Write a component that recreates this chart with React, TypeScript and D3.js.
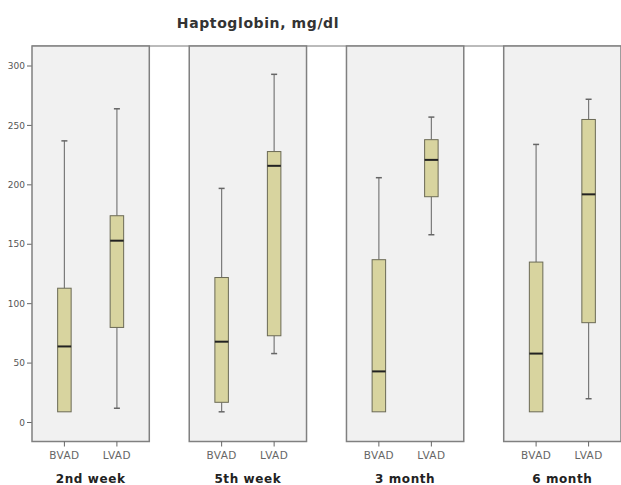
import { useEffect, useRef } from 'react';
import * as d3 from 'd3';

// time points and device types
const groups = ['2nd week', '5th week', '3 month', '6 month'];
const categories = ['BVAD', 'LVAD'];
const yTicks = [0, 50, 100, 150, 200, 250, 300];

// box stats per group: [lower whisker, q1, median, q3, upper whisker]
const bvadStats = [
  [9, 9, 64, 113, 237],
  [9, 17, 68, 122, 197],
  [9, 9, 43, 137, 206],
  [9, 9, 58, 135, 234],
];
const lvadStats = [
  [12, 80, 153, 174, 264],
  [58, 73, 216, 228, 293],
  [158, 190, 221, 238, 257],
  [20, 84, 192, 255, 272],
];

export default function App() {
  const ref = useRef<SVGSVGElement | null>(null);

  useEffect(() => {
    if (!ref.current) return;
    const svg = d3.select(ref.current);
    svg.selectAll('*').remove();

    const font = 'DejaVu Sans, Verdana, sans-serif';
    const panelTop = 46;
    const panelBottom = 441.5;

    const x = d3.scaleBand<string>()
      .domain(groups)
      .range([32, 621])
      .paddingInner(0.254)
      .paddingOuter(0);

    const xInner = d3.scalePoint<string>()
      .domain(categories)
      .range([0, x.bandwidth()])
      .padding(0.617);

    const y = d3.scaleLinear().domain([0, 300]).range([422.5, 66]);

    // title
    svg.append('text')
      .attr('x', 258)
      .attr('y', 28)
      .attr('text-anchor', 'middle')
      .attr('font-family', font)
      .attr('font-weight', 'bold')
      .attr('font-size', 14)
      .attr('letter-spacing', 0.6)
      .attr('fill', '#333')
      .text('Haptoglobin, mg/dl');

    // top line joining panels
    svg.append('line')
      .attr('x1', 32).attr('x2', 621)
      .attr('y1', panelTop).attr('y2', panelTop)
      .attr('stroke', '#bbb')
      .attr('stroke-width', 2);

    // y axis ticks
    const yAxis = svg.append('g');
    yTicks.forEach(t => {
      yAxis.append('line')
        .attr('x1', 27).attr('x2', 32)
        .attr('y1', y(t)).attr('y2', y(t))
        .attr('stroke', '#666');
      yAxis.append('text')
        .attr('x', 25)
        .attr('y', y(t))
        .attr('dy', '0.35em')
        .attr('text-anchor', 'end')
        .attr('font-family', font)
        .attr('font-size', 9)
        .attr('fill', '#555')
        .text(t);
    });

    groups.forEach((g, gi) => {
      const x0 = x(g) ?? 0;
      const panel = svg.append('g').attr('transform', `translate(${x0},0)`);

      panel.append('rect')
        .attr('x', 0)
        .attr('y', panelTop)
        .attr('width', x.bandwidth())
        .attr('height', panelBottom - panelTop)
        .attr('fill', '#f1f1f1')
        .attr('stroke', '#808080')
        .attr('stroke-width', 1.5);

      const series = [bvadStats[gi], lvadStats[gi]];
      categories.forEach((c, ci) => {
        const cx = xInner(c) ?? 0;
        const [lo, q1, med, q3, hi] = series[ci];
        const bw = 13.5;

        // whiskers
        panel.append('line')
          .attr('x1', cx).attr('x2', cx)
          .attr('y1', y(hi)).attr('y2', y(q3))
          .attr('stroke', '#7a7a7a').attr('stroke-width', 1.2);
        panel.append('line')
          .attr('x1', cx).attr('x2', cx)
          .attr('y1', y(q1)).attr('y2', y(lo))
          .attr('stroke', '#7a7a7a').attr('stroke-width', 1.2);
        [hi, lo].forEach(v => {
          if (v === q1) return;
          panel.append('line')
            .attr('x1', cx - 3).attr('x2', cx + 3)
            .attr('y1', y(v)).attr('y2', y(v))
            .attr('stroke', '#666').attr('stroke-width', 1.5);
        });

        // box
        panel.append('rect')
          .attr('x', cx - bw / 2)
          .attr('y', y(q3))
          .attr('width', bw)
          .attr('height', y(q1) - y(q3))
          .attr('fill', '#d8d49f')
          .attr('stroke', '#6b6a55')
          .attr('stroke-width', 1);

        // median
        panel.append('line')
          .attr('x1', cx - bw / 2).attr('x2', cx + bw / 2)
          .attr('y1', y(med)).attr('y2', y(med))
          .attr('stroke', '#222').attr('stroke-width', 2);

        // category tick + label
        panel.append('line')
          .attr('x1', cx).attr('x2', cx)
          .attr('y1', panelBottom).attr('y2', panelBottom + 5)
          .attr('stroke', '#666');
        panel.append('text')
          .attr('x', cx)
          .attr('y', 459)
          .attr('text-anchor', 'middle')
          .attr('font-family', font)
          .attr('font-size', 10.5)
          .attr('letter-spacing', 0.4)
          .attr('fill', '#666')
          .text(c);
      });

      panel.append('text')
        .attr('x', x.bandwidth() / 2)
        .attr('y', 483)
        .attr('text-anchor', 'middle')
        .attr('font-family', font)
        .attr('font-weight', 'bold')
        .attr('font-size', 12)
        .attr('letter-spacing', 0.6)
        .attr('fill', '#222')
        .text(g);
    });
  }, []);

  return (
    <svg
      ref={ref}
      width={621}
      height={485}
      style={{ position: 'absolute', left: 0, top: 0, background: '#fff' }}
    />
  );
}
